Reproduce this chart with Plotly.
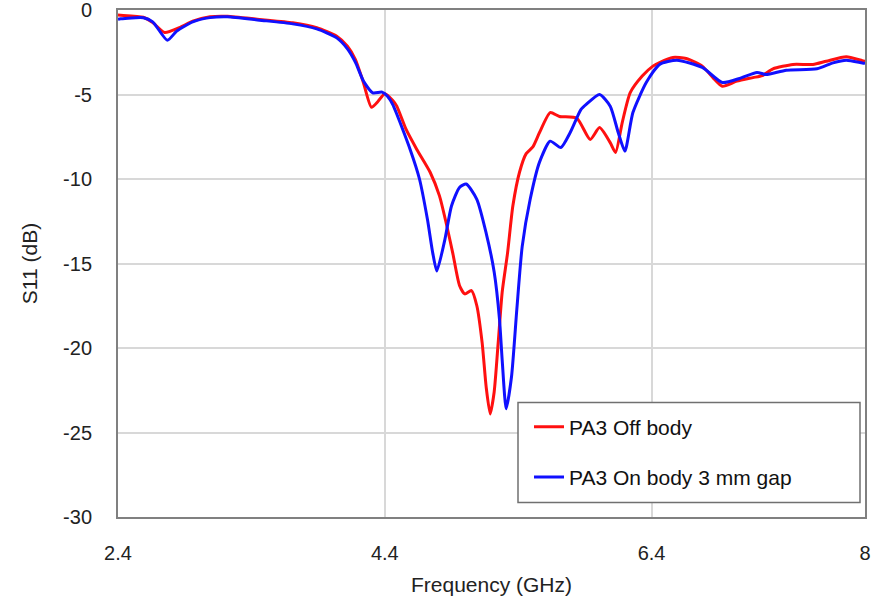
import plotly.graph_objects as go

freq_off = [2.40, 2.42, 2.59, 2.66, 2.75, 2.86, 2.96, 3.09, 3.22, 3.46, 3.71, 3.89, 4.04, 4.12, 4.18,
            4.24, 4.30, 4.35, 4.40, 4.46, 4.49, 4.56, 4.64, 4.74, 4.81, 4.86, 4.91, 4.96, 5.00, 5.05,
            5.09, 5.13, 5.16, 5.19, 5.22, 5.25, 5.28, 5.32, 5.36, 5.41, 5.46, 5.51, 5.56, 5.64, 5.71,
            5.84, 5.94, 6.01, 6.09, 6.13, 6.18, 6.24, 6.33, 6.41, 6.46, 6.56, 6.66, 6.78, 6.86, 6.93,
            7.04, 7.16, 7.23, 7.31, 7.46, 7.61, 7.71, 7.86, 7.98, 8.00]
s11_off = [-0.30, -0.31, -0.43, -0.74, -1.33, -1.04, -0.66, -0.40, -0.37, -0.56, -0.76, -1.05, -1.55, -2.14, -2.93,
           -4.30, -5.75, -5.40, -4.95, -5.35, -5.69, -7.07, -8.25, -9.60, -11.0, -12.6, -14.4, -16.3, -16.8, -16.6,
           -17.5, -19.7, -22.3, -23.9, -22.6, -19.7, -16.7, -14.4, -11.6, -9.60, -8.50, -8.10, -7.25, -6.07, -6.30,
           -6.40, -7.66, -6.96, -7.85, -8.43, -6.66, -4.89, -3.91, -3.32, -3.11, -2.81, -2.87, -3.32, -4.00, -4.51,
           -4.21, -4.00, -3.88, -3.48, -3.22, -3.22, -3.03, -2.77, -3.00, -3.03]

freq_on = [2.40, 2.42, 2.59, 2.66, 2.77, 2.84, 2.96, 3.09, 3.22, 3.46, 3.71, 3.89, 4.04, 4.12, 4.18,
           4.24, 4.31, 4.38, 4.42, 4.46, 4.59, 4.66, 4.72, 4.76, 4.79, 4.85, 4.90, 4.96, 5.01, 5.09,
           5.16, 5.22, 5.26, 5.28, 5.31, 5.35, 5.39, 5.43, 5.49, 5.56, 5.64, 5.72, 5.79, 5.87, 5.91,
           6.01, 6.09, 6.15, 6.20, 6.26, 6.36, 6.46, 6.59, 6.78, 6.93, 7.06, 7.19, 7.26, 7.41, 7.64,
           7.76, 7.86, 7.98, 8.00]
s11_on = [-0.55, -0.52, -0.46, -0.70, -1.79, -1.25, -0.70, -0.45, -0.40, -0.60, -0.82, -1.12, -1.65, -2.30, -3.10,
          -4.20, -4.90, -4.86, -5.10, -5.60, -8.25, -10.0, -12.4, -14.4, -15.45, -13.6, -11.6, -10.5, -10.3, -11.2,
          -13.2, -15.5, -18.3, -20.7, -23.6, -21.7, -17.7, -14.0, -11.2, -9.00, -7.76, -8.14, -7.25, -5.90, -5.59,
          -5.00, -5.69, -7.25, -8.35, -6.07, -4.29, -3.22, -2.97, -3.40, -4.29, -4.05, -3.70, -3.82, -3.56, -3.48,
          -3.13, -2.97, -3.13, -3.15]

x_ticks = [2.4, 4.4, 6.4, 8]
x_tick_text = ["2.4", "4.4", "6.4", "8"]
y_ticks = [0, -5, -10, -15, -20, -25, -30]
y_tick_text = ["0", "-5", "-10", "-15", "-20", "-25", "-30"]

FONT = "Arial, Liberation Sans, sans-serif"

fig = go.Figure()
fig.add_trace(go.Scatter(x=freq_off, y=s11_off, mode="lines", name="PA3 Off body",
                         line=dict(color="#ff1010", width=3, shape="spline", smoothing=0.6),
                         legendgroup="a"))
fig.add_trace(go.Scatter(x=freq_on, y=s11_on, mode="lines", name="PA3 On body 3 mm gap",
                         line=dict(color="#1010ff", width=3, shape="spline", smoothing=0.6),
                         legendgroup="b"))

fig.add_shape(type="rect", xref="paper", yref="paper",
              x0=(518 - 118) / 747, x1=(860 - 118) / 747,
              y0=(517.5 - 503) / 507, y1=(517.5 - 403) / 507,
              line=dict(color="#707070", width=1.5), fillcolor="white", layer="above")

fig.update_layout(
    width=883, height=607,
    margin=dict(l=118, r=18, t=10, b=90),
    paper_bgcolor="white", plot_bgcolor="white",
    font=dict(family=FONT, size=20, color="#222222"),
    showlegend=True,
    legend=dict(x=(529 - 118) / 747, y=(517.5 - 407) / 507, xanchor="left", yanchor="top",
                bgcolor="rgba(0,0,0,0)", borderwidth=0, font=dict(family=FONT, size=21, color="#111111"),
                tracegroupgap=20),
)
fig.update_xaxes(range=[2.4, 8], tickvals=x_ticks, ticktext=x_tick_text, showgrid=True,
                 gridcolor="#d8d8d8", gridwidth=1.5, showline=True, linecolor="#808080", linewidth=2,
                 mirror=True, ticks="", ticklabelstandoff=17, zeroline=False, automargin=False,
                 ticklabeloverflow="allow", tickfont=dict(size=20),
                 title=dict(text="Frequency (GHz)", standoff=14, font=dict(size=21)))
fig.update_yaxes(range=[-30, 0], tickvals=y_ticks, ticktext=y_tick_text, showgrid=True,
                 gridcolor="#d8d8d8", gridwidth=1.5, showline=True, linecolor="#808080", linewidth=2,
                 mirror=True, ticks="", ticklabelstandoff=20, zeroline=False, automargin=False,
                 ticklabeloverflow="allow", tickfont=dict(size=20),
                 title=dict(text="S11 (dB)", standoff=20, font=dict(size=21)))

fig.write_html("out.html")
